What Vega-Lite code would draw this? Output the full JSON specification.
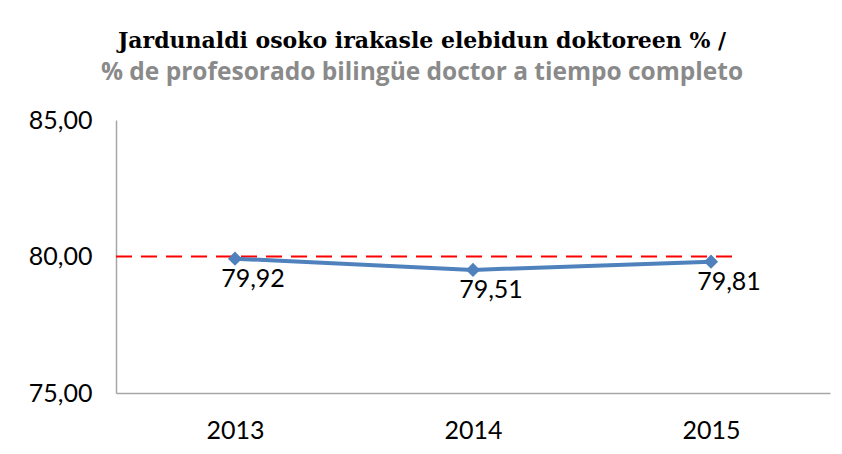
{
  "$schema": "https://vega.github.io/schema/vega-lite/v6.json",
  "width": 714,
  "height": 273,
  "autosize": {"type": "none"},
  "padding": {"left": 116, "top": 120, "right": 12, "bottom": 61},
  "background": "white",
  "config": {"view": {"stroke": null}},
  "title": {
    "text": "Jardunaldi osoko irakasle elebidun doktoreen % /",
    "subtitle": "% de profesorado bilingüe doctor a tiempo completo",
    "anchor": "middle",
    "dx": -51,
    "offset": 23,
    "font": "DejaVu Serif",
    "fontSize": 22,
    "fontWeight": "bold",
    "color": "#000000",
    "subtitleFont": "Open Sans",
    "subtitleFontSize": 24.5,
    "subtitleFontWeight": "bold",
    "subtitleColor": "#8a8a8a",
    "subtitlePadding": 8
  },
  "datasets": {
    "main": [
      {"year": "2013", "value": 79.92, "label": "79,92"},
      {"year": "2014", "value": 79.51, "label": "79,51"},
      {"year": "2015", "value": 79.81, "label": "79,81"}
    ],
    "ref": [{"start": 0, "end": 0.87, "ref": 80}]
  },
  "layer": [
    {
      "data": {"name": "ref"},
      "mark": {"type": "rule", "color": "#ff0000", "strokeWidth": 2, "strokeDash": [16, 9]},
      "encoding": {
        "x": {"field": "start", "type": "quantitative", "scale": {"domain": [0, 1], "nice": false}, "axis": null},
        "x2": {"field": "end"},
        "y": {
          "field": "ref",
          "type": "quantitative",
          "scale": {"domain": [75, 85], "nice": false, "zero": false},
          "axis": {
            "title": null,
            "values": [75, 80, 85],
            "grid": false,
            "ticks": false,
            "domainColor": "#a6a6a6",
            "domainWidth": 1.5,
            "labelFont": "Lato",
            "labelFontSize": 25,
            "labelColor": "#000000",
            "labelPadding": 24,
            "labelExpr": "replace(format(datum.value, '.2f'), '.', ',')"
          }
        }
      }
    },
    {
      "data": {"name": "main"},
      "layer": [
        {
          "mark": {"type": "line", "color": "#4f81bd", "strokeWidth": 4},
          "encoding": {}
        },
        {
          "mark": {"type": "point", "shape": "diamond", "filled": true, "color": "#4f81bd", "size": 200, "opacity": 1},
          "encoding": {}
        },
        {
          "mark": {"type": "text", "font": "Lato", "fontSize": 25, "color": "#000000", "dx": 18, "dy": 20, "baseline": "middle", "align": "center"},
          "encoding": {
            "text": {"field": "label"}
          }
        }
      ],
      "encoding": {
        "x": {
          "field": "year",
          "type": "ordinal",
          "scale": {"type": "point", "padding": 0.5},
          "axis": {
            "title": null,
            "labelAngle": 0,
            "ticks": false,
            "domainColor": "#a6a6a6",
            "domainWidth": 1.5,
            "labelFont": "Lato",
            "labelFontSize": 25,
            "labelColor": "#000000",
            "labelPadding": 25
          }
        },
        "y": {
          "field": "value",
          "type": "quantitative"
        }
      }
    }
  ],
  "resolve": {"scale": {"x": "independent"}}
}
